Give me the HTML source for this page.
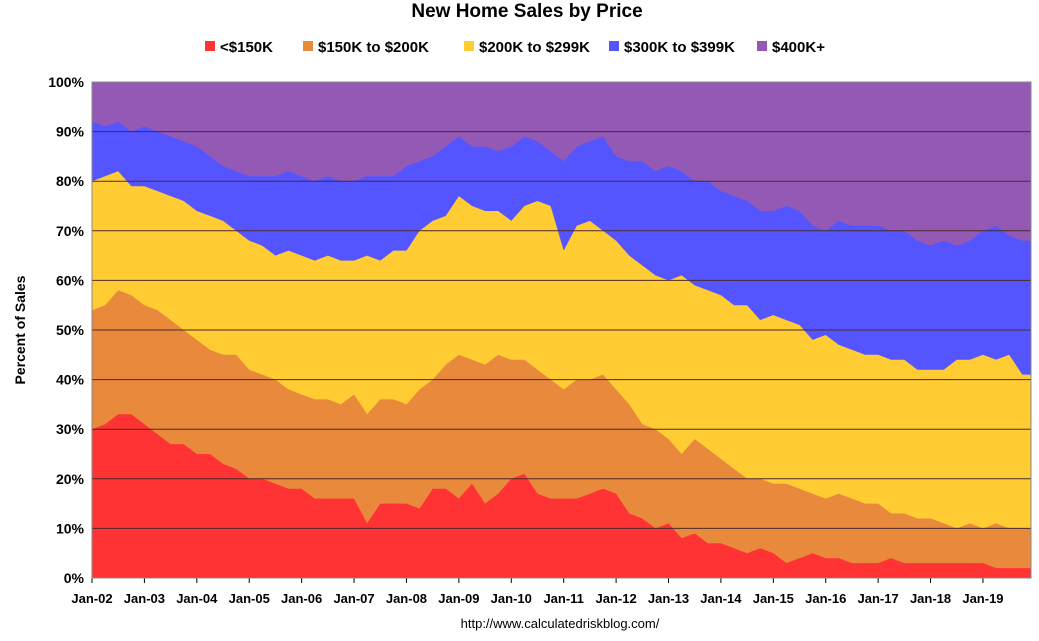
<!DOCTYPE html>
<html><head><meta charset="utf-8"><style>
body{margin:0;background:#fff;font-family:"Liberation Sans",sans-serif}
svg text{font-family:"Liberation Sans",sans-serif}
</style></head><body>
<svg id="c" width="1039" height="636"></svg>
<script>
// cumulative boundary tops (%), quarterly from Jan-02
const redTop=[30,31,33,33,31,29,27,27,25,25,23,22,20,20,19,18,18,16,16,16,16,11,15,15,15,14,18,18,16,19,15,17,20,21,17,16,16,16,17,18,17,13,12,10,11,8,9,7,7,6,5,6,5,3,4,5,4,4,3,3,3,4,3,3,3,3,3,3,3,2,2,2];
const orangeTop=[54,55,58,57,55,54,52,50,48,46,45,45,42,41,40,38,37,36,36,35,37,33,36,36,35,38,40,43,45,44,43,45,44,44,42,40,38,40,40,41,38,35,31,30,28,25,28,26,24,22,20,20,19,19,18,17,16,17,16,15,15,13,13,12,12,11,10,11,10,11,10,10];
const yellowTop=[80,81,82,79,79,78,77,76,74,73,72,70,68,67,65,66,65,64,65,64,64,65,64,66,66,70,72,73,77,75,74,74,72,75,76,75,66,71,72,70,68,65,63,61,60,61,59,58,57,55,55,52,53,52,51,48,49,47,46,45,45,44,44,42,42,42,44,44,45,44,45,41];
const blueTop=[92,91,92,90,91,90,89,88,87,85,83,82,81,81,81,82,81,80,81,80,80,81,81,81,83,84,85,87,89,87,87,86,87,89,88,86,84,87,88,89,85,84,84,82,83,82,80,80,78,77,76,74,74,75,74,71,70,72,71,71,71,70,70,68,67,68,67,68,70,71,69,68];
const yTicks=[0,10,20,30,40,50,60,70,80,90,100];
const xTicks=["Jan-02","Jan-03","Jan-04","Jan-05","Jan-06","Jan-07","Jan-08","Jan-09","Jan-10","Jan-11","Jan-12","Jan-13","Jan-14","Jan-15","Jan-16","Jan-17","Jan-18","Jan-19"];
const series=[
 {name:"<$150K",color:"#ff3333"},
 {name:"$150K to $200K",color:"#e8893c"},
 {name:"$200K to $299K",color:"#ffcc33"},
 {name:"$300K to $399K",color:"#5555ff"},
 {name:"$400K+",color:"#9359b5"}];
const L=92,R=1031,T=82,B=578;
const mx=215;
const xs=m=>L+m*(R-L)/mx;
const ys=v=>B-v*(B-T)/100;
const NS="http://www.w3.org/2000/svg";
const svg=document.getElementById('c');
function mk(t,a,p){const e=document.createElementNS(NS,t);for(const k in a)e.setAttribute(k,a[k]);(p||svg).appendChild(e);return e;}
const tops=[redTop,orangeTop,yellowTop,blueTop,redTop.map(()=>100)];
function pts(arr){const p=arr.map((v,i)=>[xs(i*3),ys(v)]);p.push([R,ys(arr[arr.length-1])]);return p;}
for(let s=4;s>=0;s--){
  const top=pts(tops[s]);
  const d="M"+L+","+B+" "+top.map(p=>"L"+p[0].toFixed(1)+","+p[1].toFixed(1)).join(" ")+" L"+R+","+B+" Z";
  const el=mk('path',{d:d,fill:series[s].color});
  
  
}
yTicks.forEach(v=>{
  if(v>0&&v<100){const g=mk('line',{x1:L,x2:R,y1:ys(v),y2:ys(v),stroke:"#4a2a2a","stroke-width":1});
  }
  const t=mk('text',{x:L-8,y:ys(v)+5,"text-anchor":"end","font-size":14,"font-weight":"bold",fill:"#000"});
  t.textContent=v+"%";
  
});
xTicks.forEach((lab,i)=>{
  const x=xs(i*12);
  mk('line',{x1:x,x2:x,y1:B,y2:B+5,stroke:"#000"});
  const t=mk('text',{x:x,y:603,"text-anchor":"middle","font-size":13,"font-weight":"bold"});
  t.textContent=lab;
  
});
mk('rect',{x:L,y:T,width:R-L,height:B-T,fill:"none",stroke:"#888","stroke-width":1});
let t=mk('text',{x:527,y:17,"text-anchor":"middle","font-size":19,"font-weight":"bold"});t.textContent="New Home Sales by Price";

t=mk('text',{x:25,y:330,"text-anchor":"middle","font-size":14,"font-weight":"bold",transform:"rotate(-90 25 330)"});t.textContent="Percent of Sales";

t=mk('text',{x:560,y:628,"text-anchor":"middle","font-size":13});t.textContent="http://www.calculatedriskblog.com/";

const lx=[205,303,464,609,757];
series.forEach((s,i)=>{
  const g=mk('g',{});
  
  mk('rect',{x:lx[i],y:41,width:10,height:10,fill:s.color},g);
  const tt=mk('text',{x:lx[i]+15,y:52,"font-size":15,"font-weight":"bold"},g);tt.textContent=s.name;
});
</script>
</body></html>
